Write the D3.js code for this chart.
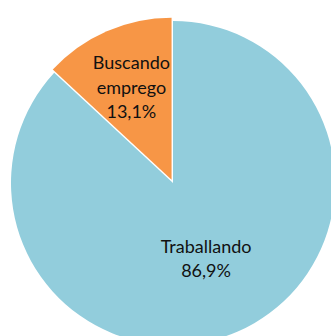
<!DOCTYPE html>
<html>
<head>
<meta charset="utf-8">
<script src="https://cdn.jsdelivr.net/npm/d3@7"></script>
<style>
  html, body { margin: 0; padding: 0; background: #fff; }
  svg { display: block; }
</style>
</head>
<body>
<svg id="chart" width="331" height="336"></svg>
<script>
// Situación laboral: share of people working vs. looking for a job
const categories = ["Traballando", "Buscando emprego"];
const values = [86.9, 13.1];
const labelLines = [["Traballando"], ["Buscando", "emprego"]];
const colors = ["#92CDDC", "#F79646"];

const width = 331, height = 336;
const cx = 173, cy = 183, radius = 162;
const explode = [0, 3.6];          // radial offset per slice
const labelRadius = [0.51, 0.62];  // label distance as a fraction of the radius
const lineHeight = 24.5;

const fmt = v => d3.format(".1f")(v).replace(".", ",") + "%";

const svg = d3.select("#chart");
const g = svg.append("g").attr("transform", `translate(${cx},${cy})`);

const pie = d3.pie().sort(null).value(d => d.value);
const arcs = pie(categories.map((c, i) => ({ name: c, value: values[i], i })));

const arc = d3.arc().innerRadius(0).outerRadius(radius);

const slices = g.selectAll("g.slice")
  .data(arcs)
  .join("g")
  .attr("class", "slice")
  .attr("transform", d => {
    const a = (d.startAngle + d.endAngle) / 2;
    const e = explode[d.data.i];
    return `translate(${Math.sin(a) * e},${-Math.cos(a) * e})`;
  });

slices.append("path")
  .attr("d", arc)
  .attr("fill", d => colors[d.data.i]);

slices.each(function(d) {
  const a = (d.startAngle + d.endAngle) / 2;
  const r = radius * labelRadius[d.data.i];
  const x = Math.sin(a) * r, y = -Math.cos(a) * r;
  const lines = labelLines[d.data.i].concat([fmt(d.data.value)]);
  const text = d3.select(this).append("text")
    .attr("text-anchor", "middle")
    .attr("font-family", "Lato, 'Noto Sans', sans-serif")
    .attr("font-size", 18)
    .attr("fill", "#111");
  const n = lines.length;
  lines.forEach((t, k) => {
    text.append("tspan")
      .attr("x", x)
      .attr("y", y + (k - (n - 1) / 2) * lineHeight)
      .attr("dy", "0.35em")
      .text(t);
  });
});
</script>
</body>
</html>
